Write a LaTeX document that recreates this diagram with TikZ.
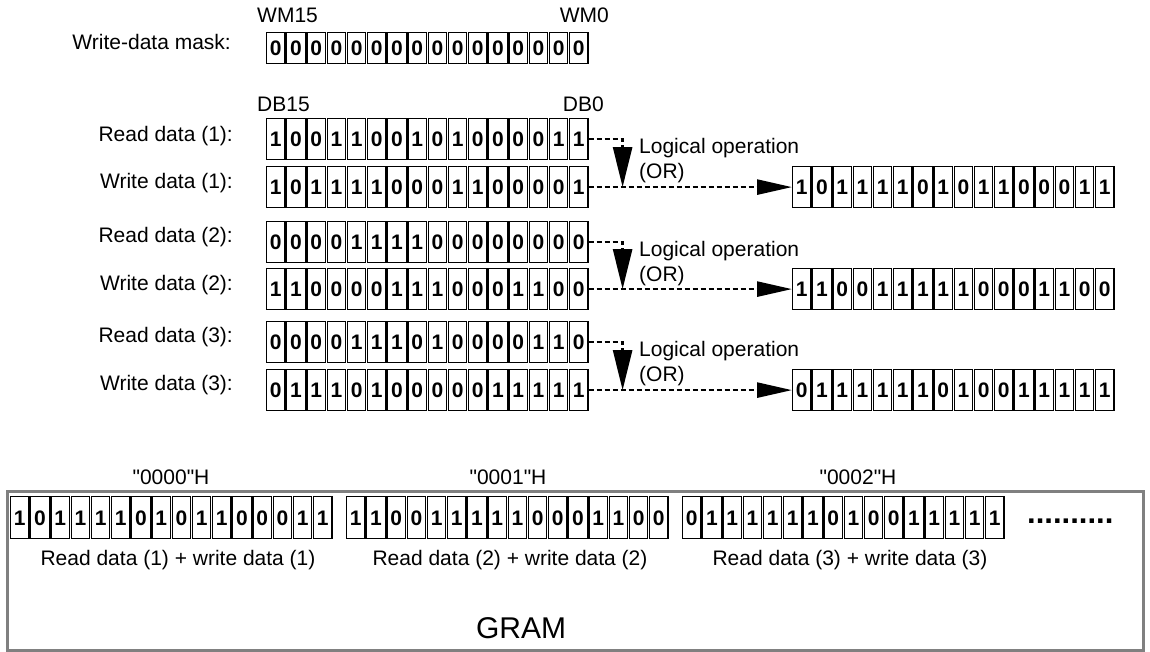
\documentclass[tikz,border=0pt]{standalone}
\usepackage{fontspec}
\setmainfont{Liberation Sans}
\usetikzlibrary{arrows.meta,calc}
\definecolor{grambord}{RGB}{128,128,128}
\tikzset{
  cell/.style={draw, line width=1.2pt, minimum width=18.4pt, inner sep=0pt,
    text height=15pt, text depth=0pt,
    font=\fontsize{21}{21}\selectfont\bfseries, anchor=north west},
  lbl/.style={font=\fontsize{21}{21}\selectfont, inner sep=0pt},
  flow/.style={line width=2.6pt, dash pattern=on 5pt off 3pt},
  vtip/.style={-{Triangle[length=40pt,width=19pt]}},
  htip/.style={-{Triangle[length=35pt,width=15pt]}},
}
\newcommand\bitrow[5]{%
  \foreach \b [count=\i] in {#5} {
    \node[cell, minimum height=#4pt] (#1-\i) at ({#2+(\i-1)*20.2},#3) {\b};
  }%
}
\newcommand\qq{\textquotedbl}
\begin{document}
\begin{tikzpicture}[x=1pt,y=-1pt]
\useasboundingbox (0,0) rectangle (1150,651);

% header labels
\node[lbl, anchor=west] (wm15) at (257,15) {WM15};
\node[lbl, anchor=east] (wm0) at (609,15) {WM0};
\node[lbl, anchor=east] (lmask) at (231,42) {Write-data mask:};
\bitrow{m}{266}{32}{31}{0,0,0,0,0,0,0,0,0,0,0,0,0,0,0,0}

\node[lbl, anchor=west] (db15) at (257,104) {DB15};
\node[lbl, anchor=east] (db0) at (604,104) {DB0};

% row labels
\node[lbl, anchor=east] (lr1) at (233,136) {Read data (1):};
\node[lbl, anchor=east] (lw1) at (233,183) {Write data (1):};
\node[lbl, anchor=east] (lr2) at (233,237) {Read data (2):};
\node[lbl, anchor=east] (lw2) at (233,285) {Write data (2):};
\node[lbl, anchor=east] (lr3) at (233,337) {Read data (3):};
\node[lbl, anchor=east] (lw3) at (233,385) {Write data (3):};

% data rows
\bitrow{r1}{266}{118}{41}{1,0,0,1,1,0,0,1,0,1,0,0,0,0,1,1}
\bitrow{w1}{266}{166}{41}{1,0,1,1,1,1,0,0,0,1,1,0,0,0,0,1}
\bitrow{s1}{792}{166}{41}{1,0,1,1,1,1,0,1,0,1,1,0,0,0,1,1}

\bitrow{r2}{266}{221}{41}{0,0,0,0,1,1,1,1,0,0,0,0,0,0,0,0}
\bitrow{w2}{266}{268}{41}{1,1,0,0,0,0,1,1,1,0,0,0,1,1,0,0}
\bitrow{s2}{792}{268}{41}{1,1,0,0,1,1,1,1,1,0,0,0,1,1,0,0}

\bitrow{r3}{266}{321}{41}{0,0,0,0,1,1,1,0,1,0,0,0,0,1,1,0}
\bitrow{w3}{266}{369}{41}{0,1,1,1,0,1,0,0,0,0,0,1,1,1,1,1}
\bitrow{s3}{792}{369}{41}{0,1,1,1,1,1,1,0,1,0,0,1,1,1,1,1}

% logical operation labels
\node[lbl, anchor=west] (op1) at (639,148) {Logical operation};
\node[lbl, anchor=west] (or1) at (639,173) {(OR)};
\node[lbl, anchor=west] (op2) at (639,251) {Logical operation};
\node[lbl, anchor=west] (or2) at (639,276) {(OR)};
\node[lbl, anchor=west] (op3) at (639,351) {Logical operation};
\node[lbl, anchor=west] (or3) at (639,376) {(OR)};

% connectors
\foreach \k in {1,2,3} {
  \coordinate (t\k) at ($(w\k-16.east)+(34,0)$);
  \draw[flow, vtip] (r\k-16.east) -| (t\k);
  \draw[flow, htip] (w\k-16.east) -- (s\k-1.west);
}

% GRAM
\node[draw=grambord, line width=3pt, minimum width=1136pt, minimum height=159pt,
  inner sep=0pt, anchor=north west] (gram) at (6,490) {};
\node[lbl, anchor=center] (a0) at (171,477) {\qq0000\qq H};
\node[lbl, anchor=center] (a1) at (508,477) {\qq0001\qq H};
\node[lbl, anchor=center] (a2) at (858,477) {\qq0002\qq H};

\bitrow{g1}{10}{496}{42}{1,0,1,1,1,1,0,1,0,1,1,0,0,0,1,1}
\bitrow{g2}{346}{496}{42}{1,1,0,0,1,1,1,1,1,0,0,0,1,1,0,0}
\bitrow{g3}{682}{496}{42}{0,1,1,1,1,1,1,0,1,0,0,1,1,1,1,1}

\node[font=\fontsize{31}{31}\selectfont\bfseries, inner sep=0pt, anchor=base west] (dots) at (1027,523) {..........};

\node[lbl, anchor=center] (c1) at (178,560) {Read data (1) + write data (1)};
\node[lbl, anchor=center] (c2) at (510,560) {Read data (2) + write data (2)};
\node[lbl, anchor=center] (c3) at (850,560) {Read data (3) + write data (3)};

\node[font=\fontsize{30}{30}\selectfont, inner sep=0pt] (gramlbl) at (521,628) {GRAM};
\end{tikzpicture}
\end{document}
